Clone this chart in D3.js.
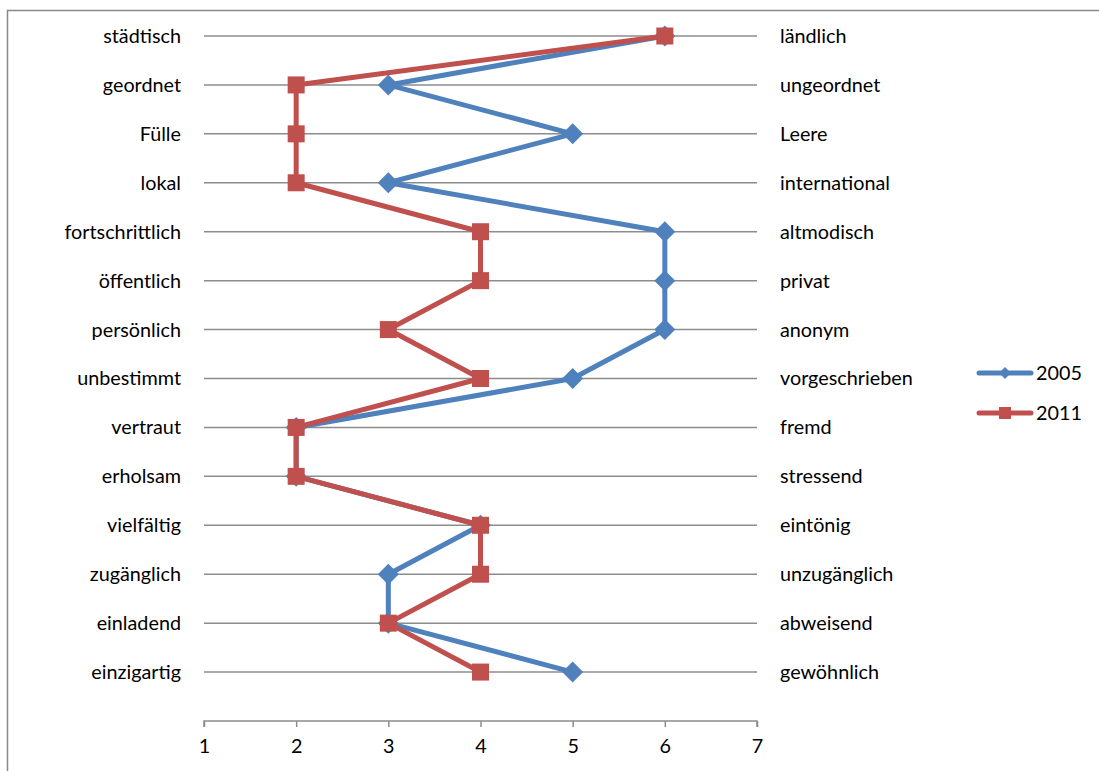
<!DOCTYPE html>
<html>
<head>
<meta charset="utf-8">
<script src="https://cdn.jsdelivr.net/npm/d3@7"></script>
<style>
  html, body { margin: 0; padding: 0; background: #fff; }
  svg { display: block; font-family: Lato, "Open Sans", sans-serif; }
</style>
</head>
<body>
<svg id="chart" width="1099" height="771"></svg>
<script>
// Semantic differential: left and right poles of each item
const leftPoles = ["städtisch", "geordnet", "Fülle", "lokal", "fortschrittlich", "öffentlich",
  "persönlich", "unbestimmt", "vertraut", "erholsam", "vielfältig", "zugänglich", "einladend", "einzigartig"];
const rightPoles = ["ländlich", "ungeordnet", "Leere", "international", "altmodisch", "privat",
  "anonym", "vorgeschrieben", "fremd", "stressend", "eintönig", "unzugänglich", "abweisend", "gewöhnlich"];

// Ratings per item (scale 1–7)
const values2005 = [6, 3, 5, 3, 6, 6, 6, 5, 2, 2, 4, 3, 3, 5];
const values2011 = [6, 2, 2, 2, 4, 4, 3, 4, 2, 2, 4, 4, 3, 4];

const seriesNames = ["2005", "2011"];
const xTicks = [1, 2, 3, 4, 5, 6, 7];

const fontSize = 19.8;
const svg = d3.select("#chart");

// outer frame
svg.append("rect")
  .attr("x", 7.5).attr("y", 10.5)
  .attr("width", 1200).attr("height", 900)
  .attr("fill", "none").attr("stroke", "#888").attr("stroke-width", 1.5);

const x = d3.scaleLinear().domain([1, 7]).range([204, 757]);
// item rows; the last slot holds the horizontal axis
const y = d3.scaleLinear().domain([0, leftPoles.length]).range([36, 721]);

const gridColor = "#8c8c8c";

// horizontal gridlines per item
svg.append("g").selectAll("line")
  .data(leftPoles)
  .join("line")
  .attr("x1", x(1)).attr("x2", x(7))
  .attr("y1", (d, i) => y(i)).attr("y2", (d, i) => y(i))
  .attr("stroke", gridColor).attr("stroke-width", 1.5);

// left pole labels
svg.append("g").selectAll("text")
  .data(leftPoles)
  .join("text")
  .attr("x", 181).attr("y", (d, i) => y(i))
  .attr("dy", "0.35em")
  .attr("text-anchor", "end")
  .attr("font-size", fontSize).attr("fill", "#000")
  .text(d => d);

// right pole labels
svg.append("g").selectAll("text")
  .data(rightPoles)
  .join("text")
  .attr("x", 780).attr("y", (d, i) => y(i))
  .attr("dy", "0.35em")
  .attr("text-anchor", "start")
  .attr("font-size", fontSize).attr("fill", "#000")
  .text(d => d);

// x axis
const xAxis = d3.axisBottom(x).tickValues(xTicks).tickSize(6).tickPadding(12).tickFormat(d3.format("d"));
const axisG = svg.append("g")
  .attr("transform", `translate(0,${y(leftPoles.length)})`)
  .call(xAxis);
axisG.select(".domain").attr("stroke", gridColor).attr("stroke-width", 1.5)
  .attr("d", `M${x(1)},6V0H${x(7)}V6`);
axisG.selectAll(".tick line").attr("stroke", gridColor).attr("stroke-width", 1.5);
axisG.selectAll(".tick text").attr("font-size", fontSize).attr("fill", "#000")
  .attr("font-family", "Lato, 'Open Sans', sans-serif");

const line = d3.line()
  .x(d => x(d))
  .y((d, i) => y(i));

const colors = { "2005": "#4F81BD", "2011": "#C0504D" };

// 2005 series: diamonds
svg.append("path")
  .datum(values2005)
  .attr("d", line)
  .attr("fill", "none").attr("stroke", colors["2005"]).attr("stroke-width", 5)
  .attr("stroke-linejoin", "round");
svg.append("g").selectAll("path")
  .data(values2005)
  .join("path")
  .attr("transform", (d, i) => `translate(${x(d)},${y(i)}) rotate(45)`)
  .attr("d", d3.symbol().type(d3.symbolSquare).size(220))
  .attr("fill", colors["2005"]);

// 2011 series: squares
svg.append("path")
  .datum(values2011)
  .attr("d", line)
  .attr("fill", "none").attr("stroke", colors["2011"]).attr("stroke-width", 5)
  .attr("stroke-linejoin", "round");
svg.append("g").selectAll("rect")
  .data(values2011)
  .join("rect")
  .attr("x", d => x(d) - 8.5).attr("y", (d, i) => y(i) - 8.5)
  .attr("width", 17).attr("height", 17)
  .attr("fill", colors["2011"]);

// legend
const legend = svg.append("g");
seriesNames.forEach((name, k) => {
  const ly = 373 + k * 40;
  const g = legend.append("g");
  g.append("line")
    .attr("x1", 979).attr("x2", 1031).attr("y1", ly).attr("y2", ly)
    .attr("stroke", colors[name]).attr("stroke-width", 5).attr("stroke-linecap", "round");
  if (name === "2005") {
    g.append("path")
      .attr("transform", `translate(1005,${ly}) rotate(45)`)
      .attr("d", d3.symbol().type(d3.symbolSquare).size(70))
      .attr("fill", colors[name]);
  } else {
    g.append("rect")
      .attr("x", 1005 - 6).attr("y", ly - 6).attr("width", 12).attr("height", 12)
      .attr("fill", colors[name]);
  }
  g.append("text")
    .attr("x", 1036).attr("y", ly).attr("dy", "0.35em")
    .attr("font-size", fontSize).attr("fill", "#000")
    .text(name);
});
</script>
</body>
</html>
